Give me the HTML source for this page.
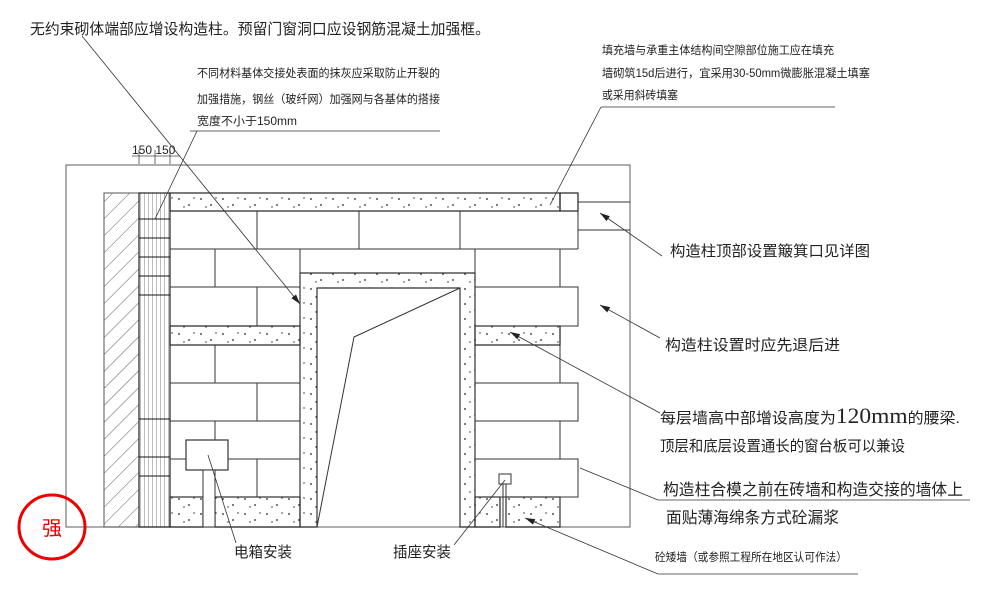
<!DOCTYPE html>
<html><head><meta charset="utf-8"><style>
html,body{margin:0;padding:0;background:#fff;}
svg{display:block;}
text{font-family:"Liberation Sans","Noto Sans CJK SC",sans-serif;fill:#222;}
</style></head><body>
<svg width="1000" height="602" viewBox="0 0 1000 602" xmlns="http://www.w3.org/2000/svg">
<defs>
<pattern id="hatch" width="12" height="12" patternUnits="userSpaceOnUse" patternTransform="rotate(45)">
<line x1="0" y1="0" x2="0" y2="12" stroke="#333" stroke-width="0.8"/>
</pattern>
<pattern id="dots" width="22" height="15" patternUnits="userSpaceOnUse">
<circle cx="3" cy="4" r="0.9" fill="#222"/><circle cx="13" cy="10" r="0.9" fill="#222"/><circle cx="18" cy="3" r="0.7" fill="#222"/><circle cx="8" cy="12" r="0.7" fill="#222"/>
</pattern>
<pattern id="mesh" width="4" height="19" patternUnits="userSpaceOnUse">
<line x1="0" y1="0" x2="0" y2="19" stroke="#444" stroke-width="0.7"/>
</pattern>
<marker id="ar" markerWidth="10" markerHeight="6" refX="10" refY="3" orient="auto" markerUnits="userSpaceOnUse">
<path d="M0,0 L10,3 L0,6 z" fill="#222"/>
</marker>
</defs>

<rect x="66" y="165" width="564" height="362" fill="none" stroke="#777" stroke-width="1.2"/>

<rect x="104" y="193" width="35" height="334" fill="url(#hatch)" stroke="#555" stroke-width="1"/>
<rect x="139" y="193" width="31" height="334" fill="url(#mesh)" stroke="#222" stroke-width="1.2"/>
<g stroke="#111" stroke-width="1">
<line x1="139" y1="219" x2="170" y2="219"/><line x1="139" y1="238" x2="170" y2="238"/><line x1="139" y1="257" x2="170" y2="257"/><line x1="139" y1="276" x2="170" y2="276"/><line x1="139" y1="295" x2="170" y2="295"/>
<line x1="139" y1="419" x2="170" y2="419"/><line x1="139" y1="457" x2="170" y2="457"/><line x1="139" y1="476" x2="170" y2="476"/>
</g>

<g stroke="#222" stroke-width="1.2">
<rect x="170" y="193" width="390" height="18" fill="url(#dots)"/>
<rect x="560" y="193" width="18" height="18" fill="none"/>
<rect x="170" y="326" width="130" height="19" fill="url(#dots)"/>
<rect x="475" y="326" width="85" height="19" fill="url(#dots)"/>
<rect x="170" y="497" width="33" height="30" fill="url(#dots)"/>
<rect x="215" y="497" width="85" height="30" fill="url(#dots)"/>
<rect x="475" y="497" width="25" height="30" fill="url(#dots)"/>
<rect x="506" y="497" width="54" height="30" fill="url(#dots)"/>
</g>

<g stroke="#333" stroke-width="1" fill="none">
<line x1="170" y1="249" x2="578" y2="249"/>
<line x1="578" y1="211" x2="578" y2="249"/>
<line x1="257" y1="211" x2="257" y2="249"/><line x1="359" y1="211" x2="359" y2="249"/><line x1="460" y1="211" x2="460" y2="249"/>
<line x1="170" y1="287" x2="300" y2="287"/><line x1="215" y1="249" x2="215" y2="287"/>
<line x1="300" y1="249" x2="300" y2="273"/><line x1="475" y1="249" x2="475" y2="273"/>
<line x1="560" y1="249" x2="560" y2="287"/>
<rect x="475" y="287" width="103" height="39"/>
<line x1="257" y1="287" x2="257" y2="326"/>
<line x1="170" y1="383" x2="300" y2="383"/><line x1="170" y1="421" x2="300" y2="421"/><line x1="170" y1="459" x2="300" y2="459"/>
<line x1="215" y1="345" x2="215" y2="383"/><line x1="257" y1="383" x2="257" y2="421"/><line x1="215" y1="421" x2="215" y2="440"/><line x1="257" y1="459" x2="257" y2="497"/>
<line x1="170" y1="497" x2="300" y2="497"/>
<line x1="560" y1="345" x2="560" y2="383"/>
<rect x="475" y="383" width="103" height="38"/>
<line x1="560" y1="421" x2="560" y2="459"/>
<rect x="475" y="459" width="103" height="38"/>
<line x1="560" y1="497" x2="560" y2="527"/>
<line x1="578" y1="202" x2="630" y2="202"/><line x1="578" y1="230" x2="630" y2="230"/>
</g>

<path d="M300,273 H475 V527 H460 V288 H317 V527 H300 Z" fill="url(#dots)" stroke="#333" stroke-width="1.2"/>
<polyline points="317,527 354,337 460,288" fill="none" stroke="#333" stroke-width="1"/>

<rect x="186" y="440" width="42" height="30" fill="#fff" stroke="#333" stroke-width="1.2"/>
<rect x="203" y="470" width="12" height="57" fill="#fff" stroke="#333" stroke-width="1"/>
<rect x="499" y="474" width="12" height="10" fill="#fff" stroke="#333" stroke-width="1"/>
<line x1="503" y1="484" x2="503" y2="527" stroke="#333"/><line x1="506" y1="484" x2="506" y2="527" stroke="#333"/>

<g stroke="#444" stroke-width="0.8">
<line x1="132" y1="156" x2="180" y2="156"/>
<line x1="139" y1="150" x2="139" y2="164"/><line x1="155" y1="150" x2="155" y2="164"/><line x1="170" y1="150" x2="170" y2="164"/>
</g>
<text x="132" y="154" font-size="12">150 150</text>

<g stroke="#333" stroke-width="0.8" fill="none">
<line x1="82" y1="36" x2="300" y2="304" marker-end="url(#ar)"/>
<line x1="190" y1="131" x2="440" y2="131"/>
<line x1="197" y1="131" x2="155" y2="219"/>
<line x1="601" y1="107" x2="835" y2="107"/>
<line x1="601" y1="107" x2="550" y2="205"/>
<line x1="662" y1="256" x2="600" y2="213" marker-end="url(#ar)"/>
<line x1="660" y1="338" x2="600" y2="305" marker-end="url(#ar)"/>
<line x1="660" y1="413" x2="510" y2="332" marker-end="url(#ar)"/>
<line x1="658" y1="500" x2="970" y2="500"/>
<line x1="658" y1="500" x2="580" y2="468"/>
<line x1="658" y1="574" x2="858" y2="574"/>
<line x1="658" y1="574" x2="525" y2="518" marker-end="url(#ar)"/>
<line x1="236" y1="543" x2="208" y2="455"/>
<line x1="454" y1="545" x2="505" y2="480"/>
</g>

<text x="30" y="34" font-size="15" textLength="460" lengthAdjust="spacingAndGlyphs">无约束砌体端部应增设构造柱。预留门窗洞口应设钢筋混凝土加强框。</text>
<text x="197" y="77" font-size="11.5" textLength="243" lengthAdjust="spacingAndGlyphs">不同材料基体交接处表面的抹灰应采取防止开裂的</text>
<text x="197" y="103" font-size="11.5" textLength="243" lengthAdjust="spacingAndGlyphs">加强措施，钢丝（玻纤网）加强网与各基体的搭接</text>
<text x="197" y="125" font-size="11.5" textLength="100" lengthAdjust="spacingAndGlyphs">宽度不小于150mm</text>
<text x="602" y="54" font-size="11.5" textLength="232" lengthAdjust="spacingAndGlyphs">填充墙与承重主体结构间空隙部位施工应在填充</text>
<text x="602" y="77" font-size="11.5" textLength="268" lengthAdjust="spacingAndGlyphs">墙砌筑15d后进行，宜采用30-50mm微膨胀混凝土填塞</text>
<text x="602" y="99" font-size="11.5" textLength="76" lengthAdjust="spacingAndGlyphs">或采用斜砖填塞</text>
<text x="670" y="256" font-size="15" textLength="200" lengthAdjust="spacingAndGlyphs">构造柱顶部设置簸箕口见详图</text>
<text x="665" y="350" font-size="15" textLength="175" lengthAdjust="spacingAndGlyphs">构造柱设置时应先退后进</text>
<text x="660" y="423" font-size="15" textLength="300" lengthAdjust="spacingAndGlyphs">每层墙高中部增设高度为<tspan font-family="Liberation Serif" font-size="22">120mm</tspan>的腰梁.</text>
<text x="660" y="451" font-size="15" textLength="245" lengthAdjust="spacingAndGlyphs">顶层和底层设置通长的窗台板可以兼设</text>
<text x="663" y="495" font-size="16" textLength="300" lengthAdjust="spacingAndGlyphs">构造柱合模之前在砖墙和构造交接的墙体上</text>
<text x="666" y="523" font-size="16" textLength="173" lengthAdjust="spacingAndGlyphs">面贴薄海绵条方式砼漏浆</text>
<text x="655" y="561" font-size="11.5" textLength="192" lengthAdjust="spacingAndGlyphs">砼矮墙（或参照工程所在地区认可作法）</text>
<text x="234" y="557" font-size="15" textLength="58" lengthAdjust="spacingAndGlyphs">电箱安装</text>
<text x="393" y="557" font-size="15" textLength="58" lengthAdjust="spacingAndGlyphs">插座安装</text>

<ellipse cx="52" cy="527" rx="33" ry="32" fill="none" stroke="#e00" stroke-width="3"/>
<text x="52" y="535" font-size="20" text-anchor="middle" style="fill:#e00">强</text>
</svg>
</body></html>
